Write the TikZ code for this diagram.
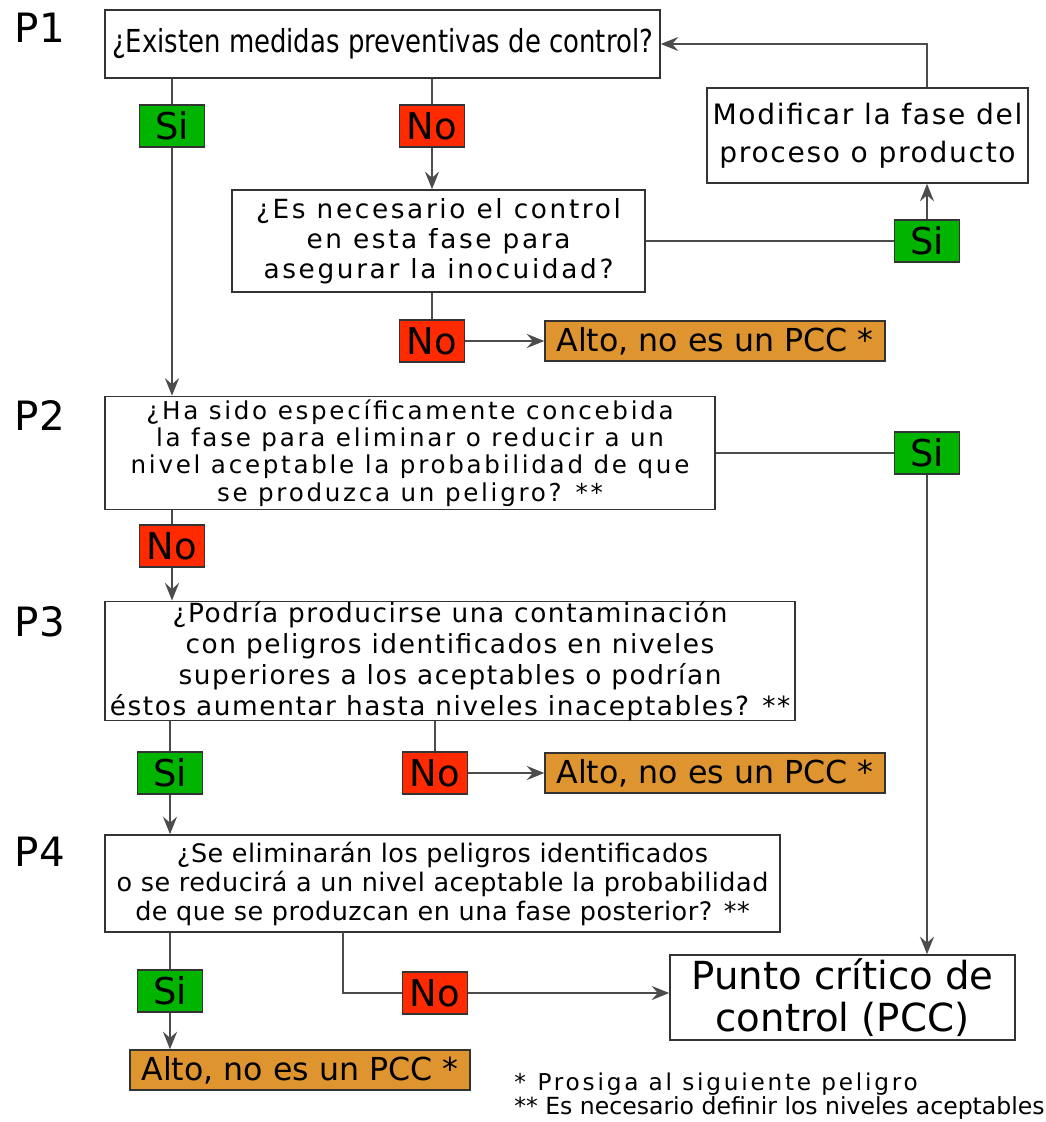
\documentclass[tikz,border=0pt]{standalone}
\usepackage{fontspec}
\setmainfont{DejaVu Sans}
\newfontfamily\condfont[FakeStretch=0.82]{DejaVu Sans}
\usetikzlibrary{arrows.meta,positioning}

\definecolor{siGreen}{HTML}{00B400}
\definecolor{noRed}{HTML}{FF2A00}
\definecolor{altoOrange}{HTML}{DE9530}

\tikzset{
  box/.style={draw=black!80, line width=0.9pt, fill=white, inner sep=0pt, align=center},
  yes/.style={draw=black!80, line width=0.8pt, fill=siGreen, minimum width=1.3cm,
    minimum height=0.84cm, inner sep=0pt, font=\fontsize{21}{24}\selectfont},
  no/.style={yes, fill=noRed},
  alto/.style={draw=black!80, line width=0.8pt, fill=altoOrange, minimum width=6.8cm,
    minimum height=0.8cm, inner sep=0pt, font=\fontsize{18}{20}\selectfont},
  plabel/.style={font=\fontsize{23}{25}\selectfont},
  link/.style={line width=1.2pt, draw=black!70},
}

\begin{document}
\begin{tikzpicture}[x=0.02cm, y=-0.02cm, >={Stealth[length=10pt,width=8pt,inset=3.5pt]}]
    \useasboundingbox (0,0) rectangle (1045,1122);

    % question labels
    \node[plabel] (lab_1) at (40,28)  {P1};
    \node[plabel] (lab_2) at (40,415) {P2};
    \node[plabel] (lab_3) at (40,622) {P3};
    \node[plabel] (lab_4) at (40,852) {P4};

    % boxes
    \node[box, minimum width=11.1cm, minimum height=1.36cm,
      font=\condfont\fontsize{18}{20}\selectfont] (p_1) at (382.5,44)
      {¿Existen medidas preventivas de control?};
    \node[box, minimum width=8.26cm, minimum height=2.04cm,
      font={\fontsize{15}{17}\selectfont\addfontfeature{LetterSpace=10}}] (q_1) at (438.5,241)
      {¿Es necesario el control\\ en esta fase para\\ asegurar la inocuidad?};
    \node[box, minimum width=6.42cm, minimum height=1.9cm,
      font={\fontsize{16}{21.5}\selectfont\addfontfeature{LetterSpace=6}}] (mod) at (867.5,135.5)
      {Modificar la fase del\\ proceso o producto};
    \node[box, minimum width=12.2cm, minimum height=2.26cm,
      font={\fontsize{14}{15.5}\selectfont\addfontfeature{LetterSpace=11}}] (p_2) at (410,453)
      {¿Ha sido específicamente concebida\\ la fase para eliminar o reducir a un\\
       nivel aceptable la probabilidad de que\\ se produzca un peligro? **};
    \node[box, minimum width=13.8cm, minimum height=2.36cm,
      font={\fontsize{15}{17.6}\selectfont\addfontfeature{LetterSpace=6}}] (p_3) at (450,661)
      {¿Podría producirse una contaminación\\ con peligros identificados en niveles\\
       superiores a los aceptables o podrían\\ éstos aumentar hasta niveles inaceptables? **};
    \node[box, minimum width=13.5cm, minimum height=1.94cm,
      font={\fontsize{14.5}{16.5}\selectfont\addfontfeature{LetterSpace=2}}] (p_4) at (442.5,883.5)
      {¿Se eliminarán los peligros identificados\\ o se reducirá a un nivel aceptable la probabilidad\\
       de que se produzcan en una fase posterior? **};
    \node[box, minimum width=6.9cm, minimum height=1.7cm,
      font=\fontsize{22}{24}\selectfont] (pcc) at (842.5,997.5)
      {Punto crítico de\\ control (PCC)};

    % answers
    \node[yes] (si_1) at (172,126) {Si};
    \node[no]  (no_1) at (432,126) {No};
    \node[yes] (si_2) at (927,241) {Si};
    \node[no]  (no_2) at (432,341) {No};
    \node[yes] (si_3) at (927,453) {Si};
    \node[no]  (no_3) at (172,546) {No};
    \node[yes] (si_4) at (170,773) {Si};
    \node[no]  (no_4) at (435,773) {No};
    \node[yes] (si_5) at (170,991) {Si};
    \node[no]  (no_5) at (435,993) {No};

    \node[alto] (alto_1) at (715,341) {Alto, no es un PCC *};
    \node[alto] (alto_2) at (715,773) {Alto, no es un PCC *};
    \node[alto] (alto_3) at (300,1070) {Alto, no es un PCC *};

    \node[anchor=west, align=left, inner sep=0pt] (notas) at (514,1096)
      {{\fontsize{13.2}{14.5}\selectfont\addfontfeature{LetterSpace=12}*\enspace Prosiga al siguiente peligro}\\
       {\fontsize{13.4}{14.5}\selectfont ** Es necesario definir los niveles aceptables}};

    \coordinate (bend_4) at (343,932);

    % P1
    \draw[link] (p_1.south -| si_1) -- (si_1);
    \draw[link,->] (si_1) -- (si_1 |- p_2.north);
    \draw[link] (p_1.south -| no_1) -- (no_1);
    \draw[link,->] (no_1) -- (no_1 |- q_1.north);
    \draw[link] (q_1.east) -- (q_1.east -| si_2.west);
    \draw[link,->] (si_2) -- (si_2 |- mod.south);
    \draw[link,->] (si_2 |- mod.north) |- (p_1.east);
    \draw[link] (q_1.south -| no_2) -- (no_2);
    \draw[link,->] (no_2) -- (alto_1);
    % P2
    \draw[link] (p_2.east) -- (p_2.east -| si_3.west);
    \draw[link,->] (si_3) -- (si_3 |- pcc.north);
    \draw[link] (p_2.south -| no_3) -- (no_3);
    \draw[link,->] (no_3) -- (no_3 |- p_3.north);
    % P3
    \draw[link] (p_3.south -| si_4) -- (si_4);
    \draw[link,->] (si_4) -- (si_4 |- p_4.north);
    \draw[link] (p_3.south -| no_4) -- (no_4);
    \draw[link,->] (no_4) -- (alto_2);
    % P4
    \draw[link] (p_4.south -| si_5) -- (si_5);
    \draw[link,->] (si_5) -- (si_5 |- alto_3.north);
    \draw[link] (bend_4) |- (no_5.west);
    \draw[link,->] (no_5.east) -- (no_5.east -| pcc.west);
\end{tikzpicture}
\end{document}
